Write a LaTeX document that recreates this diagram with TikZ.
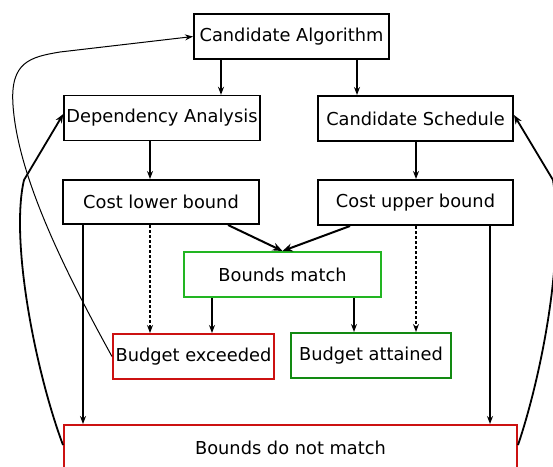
\documentclass[tikz,border=0pt]{standalone}
\usepackage{fontspec}
\setmainfont{DejaVu Sans}
\usetikzlibrary{arrows.meta,calc}
\definecolor{bred}{HTML}{CC1111}
\definecolor{lgreen}{HTML}{22B522}
\definecolor{dgreen}{HTML}{128A12}
\begin{document}
\begin{tikzpicture}[x=1pt,y=-1pt,
  box/.style={draw,line width=2pt,minimum height=45pt,inner sep=0pt,font=\fontsize{17.8}{20}\selectfont},
  arr/.style={-{Stealth[length=8pt,width=6pt]},line width=1.3pt},
  barr/.style={-{Stealth[length=10pt,width=8pt]},line width=2pt},
  darr/.style={-{Stealth[length=8pt,width=6pt]},line width=1.3pt,dash pattern=on 3pt off 2pt}]
\useasboundingbox (0,0) rectangle (553,466);
\begin{scope}
\clip (0,0) rectangle (553,466);
\node[box,minimum width=195pt] (CA) at (291.5,36.5) {Candidate Algorithm};
\node[box,line width=1.4pt,minimum width=196pt] (DA) at (162,118) {Dependency Analysis};
\node[box,minimum width=195pt] (CS) at (415.5,118.5) {Candidate Schedule};
\node[box,minimum width=196pt,minimum height=44pt] (CLB) at (161,202) {Cost lower bound};
\node[box,minimum width=195pt,minimum height=45pt] (CUB) at (415.5,202.5) {Cost upper bound};
\node[box,draw=lgreen,minimum width=197pt] (BM) at (282.5,274.5) {Bounds match};
\node[box,draw=bred,minimum width=161pt] (BE) at (193.5,356.5) {Budget exceeded};
\node[box,draw=bred,minimum width=160pt,draw=dgreen] (BA) at (371,355.5) {Budget attained};
\node[box,draw=bred,minimum width=453pt,minimum height=45pt] (BDNM) at (290.5,447.5) {Bounds do not match};

\draw[arr] (CA.south -| 221,0) -- (DA.north -| 221,0);
\draw[arr] (CA.south -| 357,0) -- (CS.north -| 357,0);
\draw[arr] (DA.south -| 150,0) -- (CLB.north -| 150,0);
\draw[arr] (CS.south -| 416,0) -- (CUB.north -| 416,0);
\draw[barr] (CLB.south -| 228,0) -- (BM.north);
\draw[barr] (CUB.south -| 350,0) -- (BM.north);
\draw[darr] (CLB.south -| 150,0) -- (BE.north -| 150,0);
\draw[darr] (CUB.south -| 416,0) -- (BA.north -| 416,0);
\draw[arr] (BM.south -| 212,0) -- (BE.north -| 212,0);
\draw[arr] (BM.south -| 354,0) -- (BA.north -| 354,0);
\draw[arr,line width=1.5pt] (CLB.south -| 83,0) -- (BDNM.north -| 83,0);
\draw[arr,line width=1.5pt] (CUB.south -| 490,0) -- (BDNM.north -| 490,0);

\draw[-{Stealth[length=8pt,width=6pt]},line width=1pt] (BE.west)
  .. controls (70,280) and (18,180) .. (13,105)
  .. controls (10,62) and (30,57) .. (60,52)
  -- (CA.west);
\draw[-{Stealth[length=9pt,width=7pt]},line width=1.8pt] ([yshift=2.5pt]BDNM.west)
  .. controls (35,370) and (10,240) .. (24,180)
  -- (DA.west |- 0,114);
\draw[-{Stealth[length=9pt,width=7pt]},line width=1.8pt] ([yshift=2.5pt]BDNM.east)
  .. controls (540,380) and (565,260) .. (553,180)
  -- (CS.east |- 0,115);
\end{scope}
\end{tikzpicture}
\end{document}
